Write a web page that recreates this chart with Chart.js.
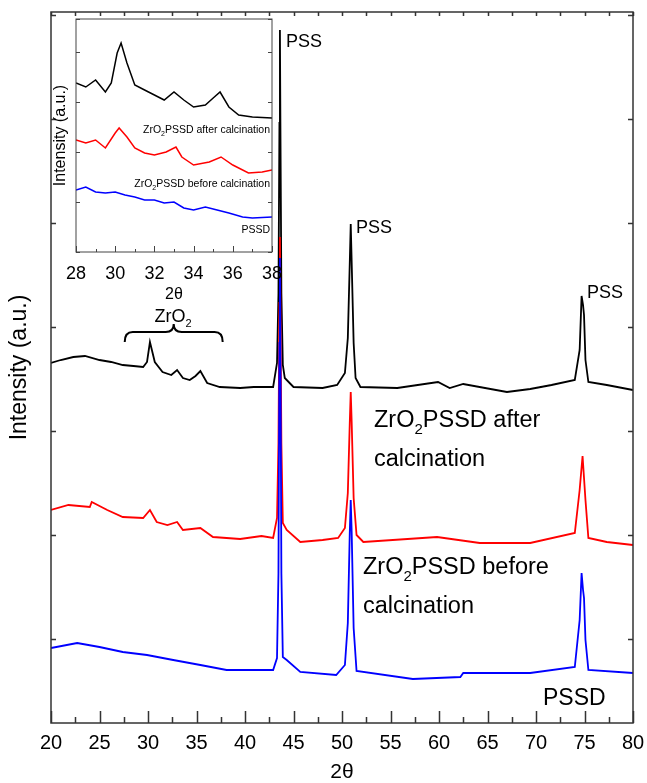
<!DOCTYPE html>
<html>
<head>
<meta charset="utf-8">
<script src="https://cdn.jsdelivr.net/npm/chart.js@4.4.0/dist/chart.umd.min.js"></script>
<style>
html, body { margin: 0; padding: 0; background: #fff; }
#wrap { position: relative; width: 647px; height: 783px; }
#mainChart { position: absolute; left: 0; top: 0; }
#insetChart { position: absolute; left: 40px; top: 8px; }
</style>
</head>
<body>
<div id="wrap">
<canvas id="mainChart" width="647" height="783"></canvas>
<canvas id="insetChart" width="250" height="300"></canvas>
</div>
<script>
// main pattern, 2theta 20-80 (offset traces, a.u.)
var blackX = [20,21,22.3,23.5,25,26.2,27.4,28.5,29.5,29.9,30.2,30.4,30.7,31.5,32.4,33.0,33.6,34.3,34.9,35.4,36.1,37.4,39.5,40.9,42.9,43.3,43.45,43.55,43.6,43.65,43.75,43.9,44.1,45,48,49.5,50.3,50.6,50.8,50.9,51.0,51.2,51.4,51.9,55.7,59.9,61.1,62.5,67,69.4,71.6,74,74.5,74.7,74.85,74.95,75.1,75.4,77.3,80];
var blackY = [360,363,366,367,363,361,358,357,356,361,381,373,361,351,348,353,345,343,347,352,340,336,335,336,336,360,430,600,693,600,430,358,345,336,335,338,350,385,460,499,460,380,345,336,335,341,335,339,331,334,338,343,373,427,418,408,363,341,338,333];

var redX = [20,21.8,24,24.2,25.8,27.4,29.5,30.2,30.9,32,33,33.6,35.4,36.7,39.5,41.7,42.9,43.3,43.45,43.55,43.6,43.65,43.75,43.9,44.3,45.7,48,49.6,50.3,50.6,50.8,50.9,51.0,51.2,51.5,52.2,59.8,64.2,69.4,74,74.5,74.8,75.1,75.4,77.3,80];
var redY = [213,218,216,221,213,206,205,213,201,198,201,193,195,186,184,187,185,205,280,420,486,420,280,200,193,181,183,185,195,230,300,331,300,225,188,181,186,180,180,190,233,267,223,185,181,178];

var blueX = [20,22.7,25,27.4,29.9,32.6,35.4,38.1,41.5,42.9,43.3,43.45,43.55,43.6,43.65,43.75,43.9,44.3,45.7,49.4,50.3,50.6,50.8,50.9,51.0,51.2,51.5,57.3,62.2,62.5,69.4,74,74.5,74.7,74.85,74.95,75.1,75.4,80];
var blueY = [75,80,76,71,68,63,58,53,53,53,65,150,380,465,380,150,66,63,51,48,58,100,190,223,190,95,52,44,46,50,50,56,103,150,133,125,83,53,50];

// inset, 2theta 28-38
var inBlackX = [28,28.5,29,29.5,29.8,30.1,30.3,30.6,31,31.5,32,32.5,33,33.5,34,34.6,35,35.35,35.8,36.3,37,38];
var inBlackY = [169,165,172,160,169,199,209,189,167,162,157,152,160,152,145,147,154,160,145,137,135,134];
var inRedX = [28,28.5,29,29.5,30,30.2,30.6,31,31.5,32,32.6,33.1,33.4,34,34.8,35.4,36,36.8,37.5,38];
var inRedY = [112,109,112,104,119,124,115,104,99,97,100,105,95,87,90,95,87,79,80,82];
var inBlueX = [28,28.5,29,29.5,30,30.5,31,31.5,32,32.5,33,33.5,34,34.6,35.2,35.8,36.5,37,38];
var inBlueY = [62,65,60,59,60,57,55,52,52,49,50,44,42,45,42,39,35,34,35];

var mainYTicks = [84,188,292,396,500,604,708];

var FONT = '"Liberation Sans", Arial, sans-serif';

function pts(xs, ys) {
	return xs.map(function (x, i) { return {x: x, y: ys[i]}; });
}

// text with subscripts: parts alternate normal / subscript
function drawRich(ctx, x, y, parts, size, align) {
	ctx.save();
	ctx.fillStyle = '#000';
	ctx.textBaseline = 'alphabetic';
	ctx.textAlign = 'left';
	var big = size + 'px ' + FONT;
	var small = Math.round(size * 0.62) + 'px ' + FONT;
	var w = 0;
	parts.forEach(function (t, i) { ctx.font = i % 2 ? small : big; w += ctx.measureText(t).width; });
	var cx = x;
	if (align === 'right') cx = x - w;
	if (align === 'center') cx = x - w / 2;
	parts.forEach(function (t, i) {
		ctx.font = i % 2 ? small : big;
		ctx.fillText(t, cx, i % 2 ? y + size * 0.3 : y);
		cx += ctx.measureText(t).width;
	});
	ctx.restore();
}

// box frame with inward ticks
const frameTicks = {
	id: 'frameTicks',
	afterDatasetsDraw(chart, args, o) {
		const ctx = chart.ctx, a = chart.chartArea, xs = chart.scales.x, ys = chart.scales.y;
		ctx.save();
		ctx.strokeStyle = o.color;
		ctx.lineWidth = o.lineWidth;
		ctx.beginPath();
		for (let v = xs.min; v <= xs.max + 1e-6; v += o.xMinor) {
			const px = Math.round(xs.getPixelForValue(v)) + 0.5;
			const major = Math.abs(v / o.xMajor - Math.round(v / o.xMajor)) < 1e-6;
			ctx.moveTo(px, a.bottom);
			ctx.lineTo(px, a.bottom - (major ? o.majorLen : o.minorLen));
			ctx.moveTo(px, a.top);
			ctx.lineTo(px, a.top + o.topLen);
		}
		ys.ticks.forEach(function (t) {
			const py = Math.round(ys.getPixelForValue(t.value)) + 0.5;
			ctx.moveTo(a.left, py);
			ctx.lineTo(a.left + o.yLen, py);
			ctx.moveTo(a.right, py);
			ctx.lineTo(a.right - o.yLen, py);
		});
		ctx.stroke();
		ctx.strokeRect(a.left, a.top, a.right - a.left, a.bottom - a.top);
		ctx.restore();
	}
};

const notes = {
	id: 'notes',
	afterDraw(chart, args, o) {
		const ctx = chart.ctx, xs = chart.scales.x, ys = chart.scales.y;
		(o.items || []).forEach(function (n) {
			drawRich(ctx, xs.getPixelForValue(n.x), ys.getPixelForValue(n.y), n.parts, n.size, n.align);
		});
		if (o.brace) {
			const b = o.brace;
			const x0 = xs.getPixelForValue(b.x0), x1 = xs.getPixelForValue(b.x1), xm = (x0 + x1) / 2;
			const ye = ys.getPixelForValue(b.yEnd), yb = ys.getPixelForValue(b.yBar), yc = ys.getPixelForValue(b.yTip);
			ctx.save();
			ctx.strokeStyle = '#000';
			ctx.lineWidth = 2;
			ctx.beginPath();
			ctx.moveTo(x0, ye);
			ctx.quadraticCurveTo(x0, yb, x0 + 8, yb);
			ctx.lineTo(xm - 8, yb);
			ctx.quadraticCurveTo(xm, yb, xm, yc);
			ctx.quadraticCurveTo(xm, yb, xm + 8, yb);
			ctx.lineTo(x1 - 8, yb);
			ctx.quadraticCurveTo(x1, yb, x1, ye);
			ctx.stroke();
			ctx.restore();
		}
	}
};

function line(data, color, order, w) {
	return {
		data: data,
		borderColor: color,
		borderWidth: w,
		pointRadius: 0,
		tension: 0,
		fill: false,
		order: order
	};
}

const mainChart = new Chart(document.getElementById('mainChart').getContext('2d'), {
	type: 'line',
	data: {
		datasets: [
			line(pts(blueX, blueY), '#0000ff', 0, 1.8),
			line(pts(redX, redY), '#ff0000', 1, 1.8),
			line(pts(blackX, blackY), '#000000', 2, 1.8)
		]
	},
	options: {
		responsive: false,
		animation: false,
		layout: { padding: { left: 0, right: 14, top: 12, bottom: 0 } },
		plugins: {
			legend: { display: false },
			tooltip: { enabled: false },
			frameTicks: { color: '#333', lineWidth: 1.5, xMinor: 2.5, xMajor: 5, majorLen: 12, minorLen: 6, topLen: 4, yLen: 5 },
			notes: {
				items: [
					{ parts: ['PSS'], x: 44.23, y: 676, size: 18 },
					{ parts: ['PSS'], x: 51.44, y: 490, size: 18 },
					{ parts: ['PSS'], x: 75.26, y: 425, size: 18 },
					{ parts: ['ZrO', '2'], x: 32.58, y: 401, size: 18, align: 'center' },
					{ parts: ['ZrO', '2', 'PSSD after'], x: 53.3, y: 296, size: 23.5 },
					{ parts: ['calcination'], x: 53.3, y: 257, size: 23.5 },
					{ parts: ['ZrO', '2', 'PSSD before'], x: 52.16, y: 149, size: 23.5 },
					{ parts: ['calcination'], x: 52.16, y: 110, size: 23.5 },
					{ parts: ['PSSD'], x: 70.72, y: 18, size: 23 }
				],
				brace: { x0: 27.6, x1: 37.7, yEnd: 381, yBar: 391, yTip: 399 }
			}
		},
		scales: {
			x: {
				type: 'linear',
				min: 20,
				max: 80,
				afterFit: function (s) { s.height = 60; },
				grid: { display: false },
				border: { display: false },
				ticks: { stepSize: 5, autoSkip: false, maxRotation: 0, padding: 0, color: '#000', font: { family: FONT, size: 20 } },
				title: { display: true, text: '2θ', color: '#000', padding: { top: 0, bottom: 0 }, font: { family: FONT, size: 21, lineHeight: 1.0 } }
			},
			y: {
				type: 'linear',
				min: 0,
				max: 711,
				afterFit: function (s) { s.width = 51; },
				afterBuildTicks: function (s) { s.ticks = mainYTicks.map(function (v) { return {value: v}; }); },
				grid: { display: false },
				border: { display: false },
				ticks: { display: false },
				title: { display: true, text: 'Intensity (a.u.)', color: '#000', padding: { top: 6, bottom: 0 }, font: { family: FONT, size: 23 } }
			}
		}
	},
	plugins: [frameTicks, notes]
});

const insetChart = new Chart(document.getElementById('insetChart').getContext('2d'), {
	type: 'line',
	data: {
		datasets: [
			line(pts(inBlueX, inBlueY), '#0000ff', 0, 1.5),
			line(pts(inRedX, inRedY), '#ff0000', 1, 1.5),
			line(pts(inBlackX, inBlackY), '#000000', 2, 1.5)
		]
	},
	options: {
		responsive: false,
		animation: false,
		layout: { padding: { left: 0, right: 18, top: 11, bottom: 0 } },
		plugins: {
			legend: { display: false },
			tooltip: { enabled: false },
			frameTicks: { color: '#444', lineWidth: 1, xMinor: 1, xMajor: 2, majorLen: 6, minorLen: 3, topLen: 0, yLen: 4 },
			notes: {
				items: [
					{ parts: ['ZrO', '2', 'PSSD after calcination'], x: 37.9, y: 119, size: 10.5, align: 'right' },
					{ parts: ['ZrO', '2', 'PSSD before calcination'], x: 37.9, y: 65, size: 10.5, align: 'right' },
					{ parts: ['PSSD'], x: 37.9, y: 19, size: 10.5, align: 'right' }
				]
			}
		},
		scales: {
			x: {
				type: 'linear',
				min: 28,
				max: 38,
				afterFit: function (s) { s.height = 56; },
				grid: { display: false },
				border: { display: false },
				ticks: { stepSize: 2, autoSkip: false, maxRotation: 0, padding: 3, color: '#000', font: { family: FONT, size: 18 } },
				title: { display: true, text: '2θ', color: '#000', padding: { top: 0, bottom: 4 }, font: { family: FONT, size: 16 } }
			},
			y: {
				type: 'linear',
				min: 0,
				max: 233,
				afterFit: function (s) { s.width = 36; },
				grid: { display: false },
				border: { display: false },
				ticks: { display: false, stepSize: 50 },
				title: { display: true, text: 'Intensity (a.u.)', color: '#000', padding: { top: 11, bottom: 0 }, font: { family: FONT, size: 16 } }
			}
		}
	},
	plugins: [frameTicks, notes]
});
</script>
</body>
</html>
